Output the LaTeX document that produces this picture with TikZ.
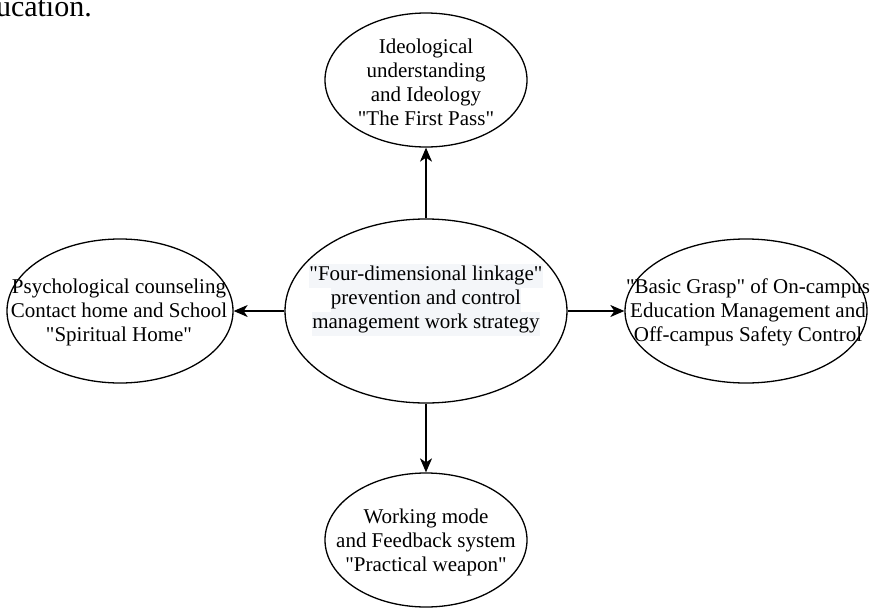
\documentclass[tikz,border=0pt]{standalone}
\usepackage{fontspec}
\setmainfont{Liberation Serif}[Ligatures=TeXOff]
\usetikzlibrary{shapes.geometric,arrows.meta}
\definecolor{hlgray}{RGB}{244,246,249}
\newcommand\hlline[1]{{\setlength{\fboxsep}{0pt}\colorbox{hlgray}{\strut #1}}}
\begin{document}
\begin{tikzpicture}[x=1pt,y=-1pt,
  oval/.style={draw=black,line width=1.3pt,ellipse,inner sep=0pt},
  lbl/.style={align=center,inner sep=0pt,font=\fontsize{21}{24}\selectfont},
  link/.style={draw=black,line width=1.3pt,-{Stealth[length=14pt,width=12pt,inset=4pt]}}]
\useasboundingbox (0,0) rectangle (873,608);
% partial body text at top-left
\node[anchor=base east,inner sep=0pt,font=\fontsize{30}{34}\selectfont] (body) at (92,16) {education.};
% ellipses
\node[oval,minimum width=202pt,minimum height=134pt] (top) at (426,80) {};
\node[oval,minimum width=282pt,minimum height=184pt] (mid) at (426,311) {};
\node[oval,minimum width=226pt,minimum height=144pt] (left) at (120,311) {};
\node[oval,minimum width=242pt,minimum height=144pt] (right) at (746,311) {};
\node[oval,minimum width=202pt,minimum height=134pt] (bot) at (426,540) {};
% texts
\node[lbl] (ttop) at (426,82) {Ideological\\understanding\\and Ideology\\"The First Pass"};
\node[lbl] (tmid) at (426,300) {\hlline{"Four-dimensional linkage"}\\\hlline{prevention and control}\\\hlline{management work strategy}};
\node[lbl] (tleft) at (119,312) {Psychological counseling\\Contact home and School\\"Spiritual Home"};
\node[lbl] (tright) at (748,312) {"Basic Grasp" of On-campus\\Education Management and\\Off-campus Safety Control};
\node[lbl] (tbot) at (426,542) {Working mode\\and Feedback system\\"Practical weapon"};
% connectors
\draw[link] (mid.north) -- (top.south);
\draw[link] (mid.south) -- (bot.north);
\draw[link] (mid.west) -- (left.east);
\draw[link] (mid.east) -- (right.west);
\end{tikzpicture}
\end{document}
